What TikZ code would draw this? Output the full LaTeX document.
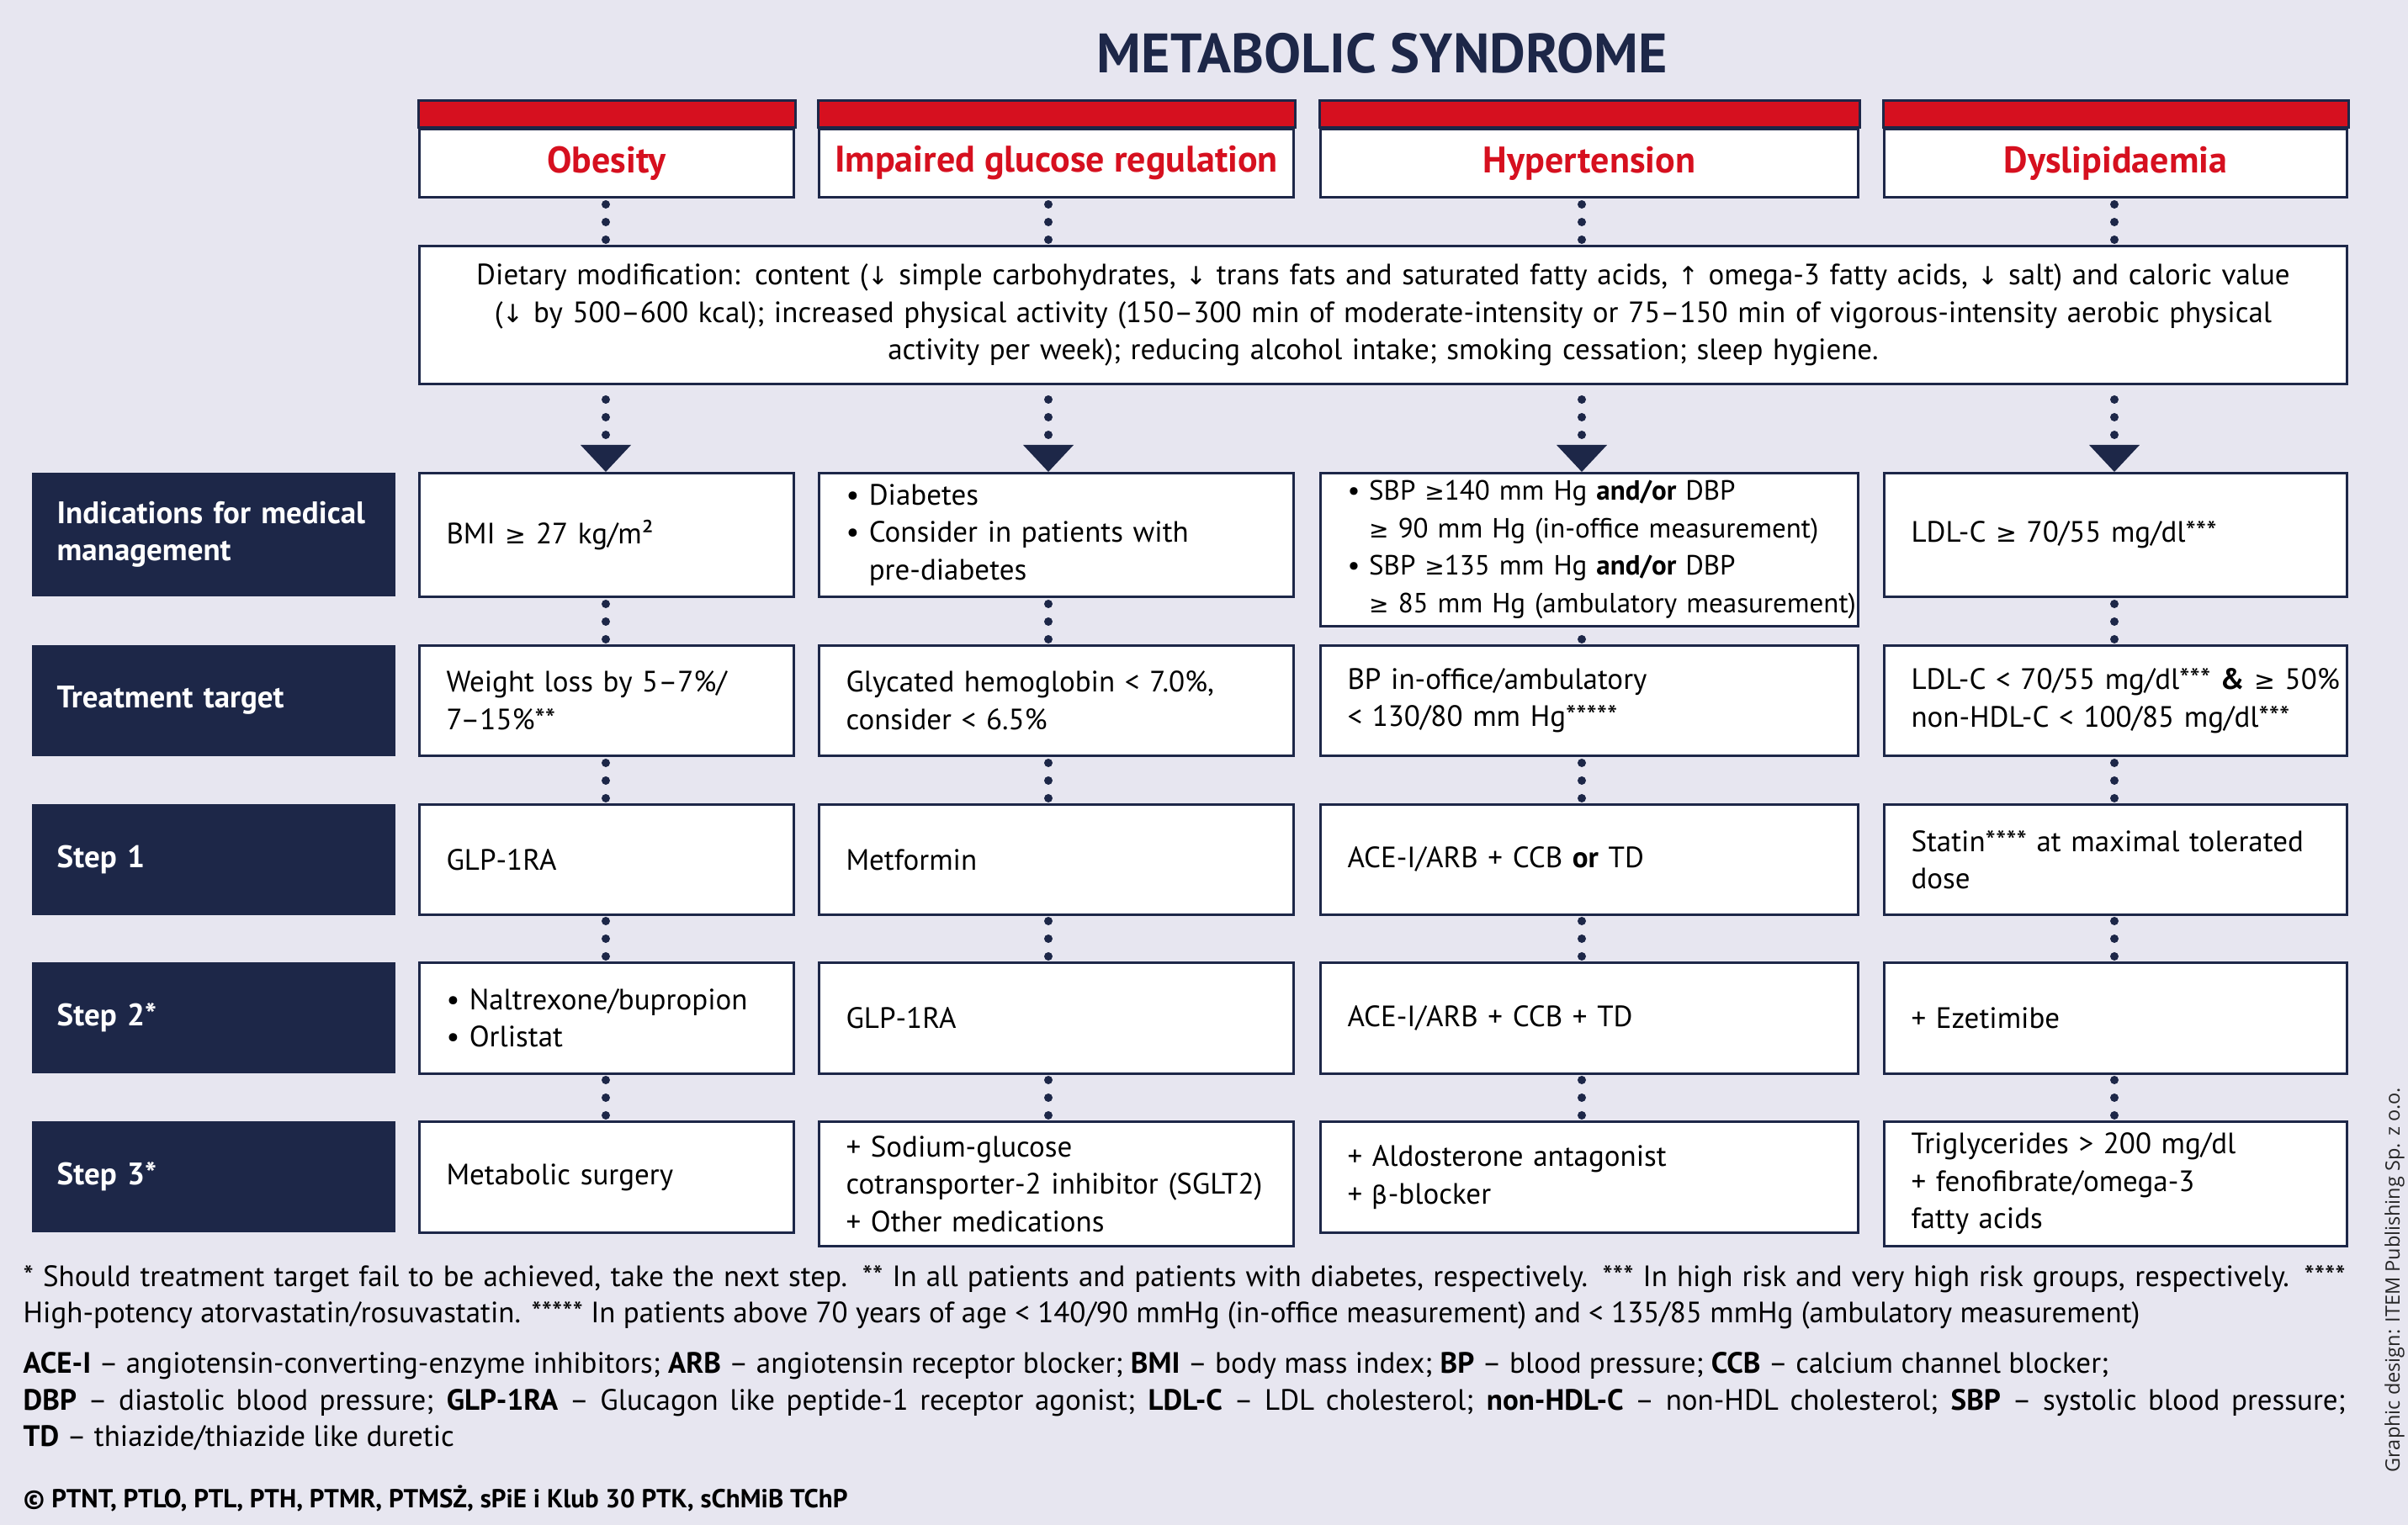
\documentclass[tikz,border=0pt]{standalone}
\usepackage{fontspec}
\setmainfont{PT Sans}
\newfontfamily\symf{DejaVu Sans}[Scale=0.85]
\newfontfamily\credf{Open Sans}
\usetikzlibrary{arrows.meta}
\definecolor{bgc}{RGB}{231,230,240}
\definecolor{navy}{RGB}{29,39,72}
\definecolor{hred}{RGB}{214,16,31}
\newcommand{\sge}{{\symf ≥}}
\newcommand{\sdn}{{\symf ↓}}
\newcommand{\sun}{{\symf ↑}}
\newcommand{\sbeta}{{\symf β}}
\newcommand{\bul}{\makebox[0.78em][l]{•}}
\newcommand{\ind}{\hspace*{0.78em}}
\newcommand{\bodyfont}{\fontsize{0.35cm}{0.445cm}\selectfont}

\begin{document}
\begin{tikzpicture}[>={Triangle[width=0.6cm,length=0.32cm,line width=0pt]},
  cell/.style={draw=navy, line width=0.03cm, fill=white, anchor=north west, inner xsep=0.32cm, inner ysep=0pt, align=left, font=\bodyfont},
  lab/.style={fill=navy, anchor=north west, text width=3.72cm, inner xsep=0.30cm, inner ysep=0pt, align=left, text=white, font=\fontsize{0.37cm}{0.445cm}\selectfont\bfseries},
  head/.style={draw=navy, line width=0.03cm, fill=white, anchor=south west, minimum height=0.81cm, inner sep=0pt, text=hred, font=\fontsize{0.44cm}{0.5cm}\selectfont\bfseries},
  dotline/.style={navy, line width=0.1cm, line cap=round, dash pattern=on 0pt off 0.21cm, dash phase=0.15cm},
  dotarrow/.style={dotline, dash phase=0.04cm, ->},
  note/.style={anchor=base west, inner sep=0pt, font=\bodyfont}]

\fill[bgc] (0,0) rectangle (28.62,18.13);
\useasboundingbox (0,0) rectangle (28.62,18.13);

\node[anchor=base, text=navy, font=\fontsize{0.66cm}{0.8cm}\selectfont\bfseries] (title) at (16.43,17.26) {METABOLIC SYNDROME};

\foreach \n/\x/\w/\t in {h1/4.97/4.45/Obesity, h2/9.72/5.64/Impaired glucose regulation, h3/15.68/6.39/Hypertension, h4/22.38/5.50/Dyslipidaemia}
{
  \node[head, minimum width=\w cm] (\n) at (\x,15.77) {\t};
  \draw[navy, line width=0.03cm, fill=hred] (\n.north west) rectangle ([yshift=0.32cm]\n.north east);
}

\node[cell, text width=22.27cm, align=center, minimum height=1.64cm] (diet) at (4.97,15.22) {Dietary modification: content (\sdn{} simple carbohydrates, \sdn{} trans fats and saturated fatty acids, \sun{} omega-3 fatty acids, \sdn{} salt) and caloric value\\(\sdn{} by 500–600 kcal); increased physical activity (150–300 min of moderate-intensity or 75–150 min of vigorous-intensity aerobic physical\\activity per week); reducing alcohol intake; smoking cessation; sleep hygiene.};

\coordinate (xa) at (7.20,0);
\coordinate (xb) at (12.46,0);
\coordinate (xc) at (18.80,0);
\coordinate (xd) at (25.13,0);

\node[lab, minimum height=1.47cm] (l1) at (0.37,12.52) {Indications for medical\\management};
\node[lab, minimum height=1.32cm] (l2) at (0.37,10.47) {Treatment target};
\node[lab, minimum height=1.32cm] (l3) at (0.37,8.58) {Step 1};
\node[lab, minimum height=1.32cm] (l4) at (0.37,6.70) {Step 2*};
\node[lab, minimum height=1.32cm] (l5) at (0.37,4.81) {Step 3*};

\node[cell, text width=3.81cm, minimum height=1.47cm] (a1) at (4.97,12.52) {BMI \sge{} 27 kg/m²};
\node[cell, text width=5.00cm, minimum height=1.47cm] (b1) at (9.72,12.52) {\bul Diabetes\\\bul Consider in patients with\\\ind pre-diabetes};
\node[cell, text width=5.75cm, minimum height=1.82cm, font=\fontsize{0.33cm}{0.445cm}\selectfont] (c1) at (15.68,12.52) {\mbox{\bul SBP \sge140 mm Hg \textbf{and/or} DBP}\\\mbox{\ind\sge{} 90 mm Hg (in-office measurement)}\\\mbox{\bul SBP \sge135 mm Hg \textbf{and/or} DBP}\\\mbox{\ind\sge{} 85 mm Hg (ambulatory measurement)}};
\node[cell, text width=4.86cm, minimum height=1.47cm] (d1) at (22.38,12.52) {LDL-C \sge{} 70/55 mg/dl***};

\node[cell, text width=3.81cm, minimum height=1.31cm] (a2) at (4.97,10.47) {Weight loss by 5–7\%/\\7–15\%**};
\node[cell, text width=5.00cm, minimum height=1.31cm] (b2) at (9.72,10.47) {Glycated hemoglobin < 7.0\%,\\consider < 6.5\%};
\node[cell, text width=5.75cm, minimum height=1.31cm] (c2) at (15.68,10.47) {BP in-office/ambulatory\\< 130/80 mm Hg*****};
\node[cell, text width=4.86cm, minimum height=1.31cm] (d2) at (22.38,10.47) {\mbox{LDL-C < 70/55 mg/dl*** \textbf{\&} \sge{} 50\%}\\non-HDL-C < 100/85 mg/dl***};

\node[cell, text width=3.81cm, minimum height=1.31cm] (a3) at (4.97,8.58) {GLP-1RA};
\node[cell, text width=5.00cm, minimum height=1.31cm] (b3) at (9.72,8.58) {Metformin};
\node[cell, text width=5.75cm, minimum height=1.31cm] (c3) at (15.68,8.58) {ACE-I/ARB + CCB \textbf{or} TD};
\node[cell, text width=4.86cm, minimum height=1.31cm] (d3) at (22.38,8.58) {Statin**** at maximal tolerated\\dose};

\node[cell, text width=3.81cm, minimum height=1.32cm] (a4) at (4.97,6.70) {\bul Naltrexone/bupropion\\\bul Orlistat};
\node[cell, text width=5.00cm, minimum height=1.32cm] (b4) at (9.72,6.70) {GLP-1RA};
\node[cell, text width=5.75cm, minimum height=1.32cm] (c4) at (15.68,6.70) {ACE-I/ARB + CCB + TD};
\node[cell, text width=4.86cm, minimum height=1.32cm] (d4) at (22.38,6.70) {+ Ezetimibe};

\node[cell, text width=3.81cm, minimum height=1.32cm] (a5) at (4.97,4.81) {Metabolic surgery};
\node[cell, text width=5.00cm, minimum height=1.48cm] (b5) at (9.72,4.81) {+ Sodium-glucose\\\mbox{cotransporter-2 inhibitor (SGLT2)}\\+ Other medications};
\node[cell, text width=5.75cm, minimum height=1.32cm] (c5) at (15.68,4.81) {+ Aldosterone antagonist\\+ \sbeta-blocker};
\node[cell, text width=4.86cm, minimum height=1.48cm] (d5) at (22.38,4.81) {Triglycerides > 200 mg/dl\\+ fenofibrate/omega-3\\fatty acids};

\foreach \c/\n in {xa/h1, xb/h2, xc/h3, xd/h4}
  \draw[dotline] (diet.north -| \c) -- (\n.south -| \c);
\foreach \c/\n in {xa/a1, xb/b1, xc/c1, xd/d1}
  \draw[dotarrow] (diet.south -| \c) -- (\n.north -| \c);
\foreach \c/\k in {xa/a, xb/b, xc/c, xd/d}
  \foreach \u/\l in {1/2, 2/3, 3/4, 4/5}
    \draw[dotline] (\k\l.north -| \c) -- (\k\u.south -| \c);

\node[note] (n1) at (0.27,2.83) {\makebox[27.60cm][s]{* Should treatment target fail to be achieved, take the next step. ** In all patients and patients with diabetes, respectively. *** In high risk and very high risk groups, respectively. ****}};
\node[note] (n2) at (0.27,2.40) {High-potency atorvastatin/rosuvastatin. ***** In patients above 70 years of age < 140/90 mmHg (in-office measurement) and < 135/85 mmHg (ambulatory measurement)};
\node[note] (ab1) at (0.27,1.80) {\textbf{ACE-I} – angiotensin-converting-enzyme inhibitors; \textbf{ARB} – angiotensin receptor blocker; \textbf{BMI} – body mass index; \textbf{BP} – blood pressure; \textbf{CCB} – calcium channel blocker;};
\node[note] (ab2) at (0.27,1.36) {\makebox[27.60cm][s]{\textbf{DBP} – diastolic blood pressure; \textbf{GLP-1RA} – Glucagon like peptide-1 receptor agonist; \textbf{LDL-C} – LDL cholesterol; \textbf{non-HDL-C} – non-HDL cholesterol; \textbf{SBP} – systolic blood pressure;}};
\node[note] (ab3) at (0.27,0.93) {\textbf{TD} – thiazide/thiazide like duretic};
\node[note, font=\fontsize{0.31cm}{0.4cm}\selectfont\bfseries] (cpr) at (0.27,0.20) {© PTNT, PTLO, PTL, PTH, PTMR, PTMSŻ, sPiE i Klub 30 PTK, sChMiB TChP};

\node[rotate=90, anchor=base west, inner sep=0pt, text=black!85, font=\credf\fontsize{0.235cm}{0.28cm}\selectfont] (cred) at (28.52,0.62) {Graphic design: ITEM Publishing Sp. z o.o.};
\end{tikzpicture}
\end{document}
